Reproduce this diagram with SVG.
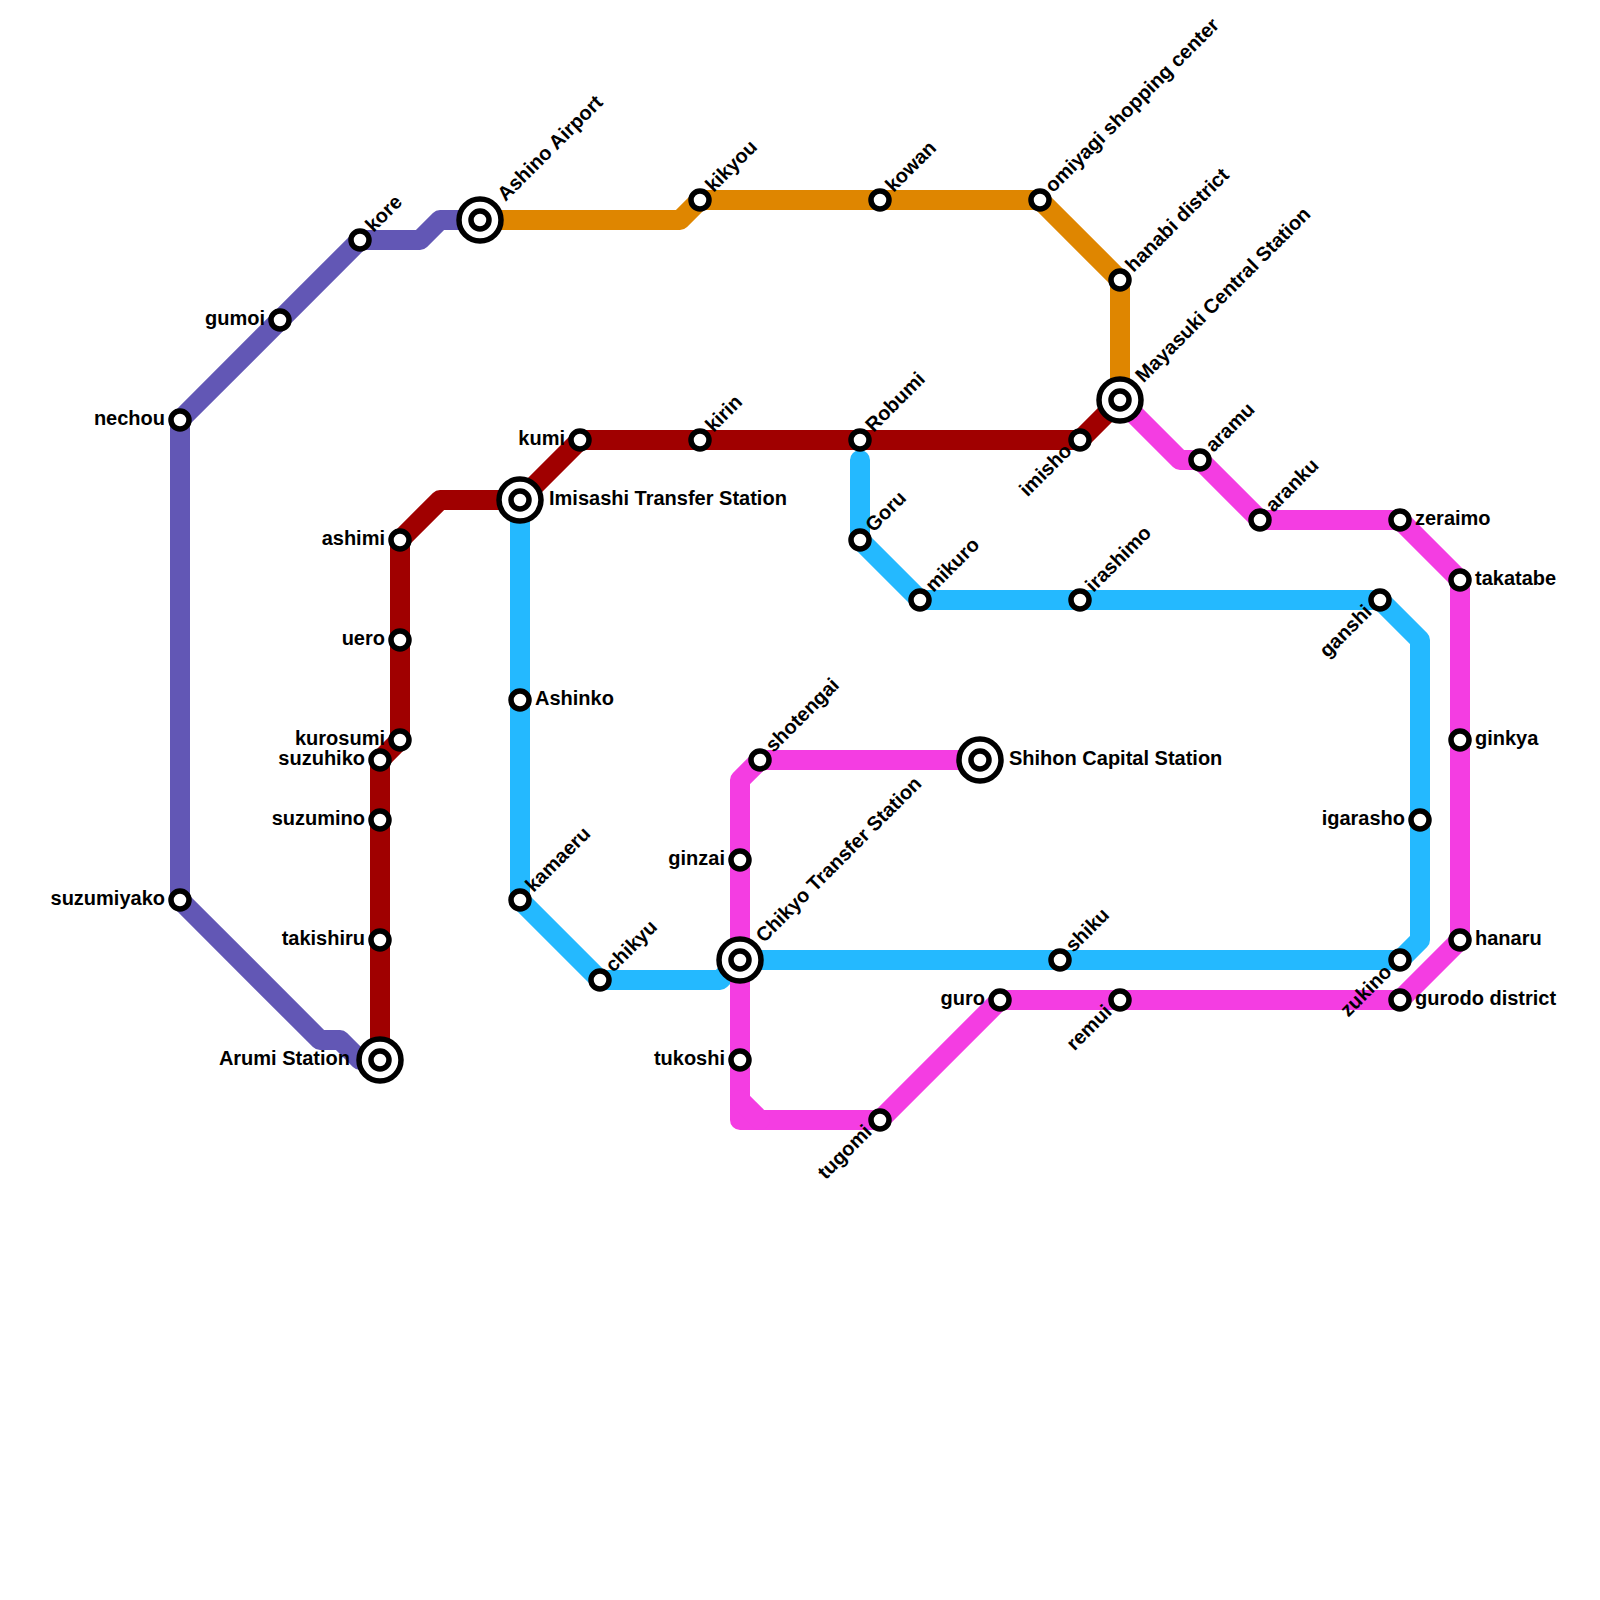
<svg xmlns="http://www.w3.org/2000/svg" width="1600" height="1600" viewBox="0 0 1600 1600">
<style>
.l{fill:none;stroke-width:20;stroke-linejoin:round;stroke-linecap:round}
.s{fill:#fff;stroke:#000;stroke-width:5.5}
text{font-family:"Liberation Sans",Arial,sans-serif;font-size:20px;font-weight:bold;fill:#000}
.e{text-anchor:end}
</style>
<rect width="1600" height="1600" fill="#fff"/>
<defs>
<g id="st"><circle class="s" r="9"/></g>
<g id="ix"><circle class="s" r="21"/><circle class="s" r="9"/></g>
</defs>
<g id="connectors">
<path class="l" stroke="#6257b5" d="M480 220H440L420 240H360L180 420V900L320 1040H340L360 1060H380"/>
<path class="l" stroke="#a00000" d="M380 1060V760L400 740V540L440 500H520L580 440H1080L1120 400"/>
<path class="l" stroke="#df8600" d="M480 220H680L700 200H1040L1120 280V400"/>
<path class="l" stroke="#24b9ff" d="M860 460V540L920 600H1380L1420 640V940L1400 960H740"/>
<path class="l" stroke="#24b9ff" d="M520 500V900L600 980H720L740 960"/>
<path class="l" stroke="#f43de2" d="M1120 400L1180 460H1200L1260 520H1400L1460 580V940L1400 1000H1000L880 1120H740V780L760 760H980"/>
<path class="l" stroke="#f43de2" d="M740 1100L760 1120"/>
</g>
<g id="n-nechou"><use href="#st" x="180" y="420"/><text class="e" x="165" y="425">nechou</text></g>
<g id="n-gumoi"><use href="#st" x="280" y="320"/><text class="e" x="265" y="325">gumoi</text></g>
<g id="n-kore"><use href="#st" x="360" y="240"/><text transform="translate(373.500 233) rotate(-45)">kore</text></g>
<g id="n-ashino"><use href="#ix" x="480" y="220"/><text transform="translate(505.500 202) rotate(-45)">Ashino Airport</text></g>
<g id="n-suzumiyako"><use href="#st" x="180" y="900"/><text class="e" x="165" y="905">suzumiyako</text></g>
<g id="n-arumi"><use href="#ix" x="380" y="1060"/><text class="e" x="350" y="1065">Arumi Station</text></g>
<g id="n-takishiru"><use href="#st" x="380" y="940"/><text class="e" x="365" y="945">takishiru</text></g>
<g id="n-suzumino"><use href="#st" x="380" y="820"/><text class="e" x="365" y="825">suzumino</text></g>
<g id="n-suzuhiko"><use href="#st" x="380" y="760"/><text class="e" x="365" y="765">suzuhiko</text></g>
<g id="n-kurosumi"><use href="#st" x="400" y="740"/><text class="e" x="385" y="745">kurosumi</text></g>
<g id="n-uero"><use href="#st" x="400" y="640"/><text class="e" x="385" y="645">uero</text></g>
<g id="n-ashimi"><use href="#st" x="400" y="540"/><text class="e" x="385" y="545">ashimi</text></g>
<g id="n-imisashi"><use href="#ix" x="520" y="500"/><text x="549" y="505">Imisashi Transfer Station</text></g>
<g id="n-kumi"><use href="#st" x="580" y="440"/><text class="e" x="565" y="445">kumi</text></g>
<g id="n-kirin"><use href="#st" x="700" y="440"/><text transform="translate(713.500 433) rotate(-45)">kirin</text></g>
<g id="n-robumi"><use href="#st" x="860" y="440"/><text transform="translate(873.500 433) rotate(-45)">Robumi</text></g>
<g id="n-imisho"><use href="#st" x="1080" y="440"/><text class="e" transform="translate(1073 452) rotate(-45)">imisho</text></g>
<g id="n-mayasuki"><use href="#ix" x="1120" y="400"/><text transform="translate(1143.500 383.500) rotate(-45)">Mayasuki Central Station</text></g>
<g id="n-hanabi"><use href="#st" x="1120" y="280"/><text transform="translate(1133.500 273) rotate(-45)">hanabi district</text></g>
<g id="n-omiyagi"><use href="#st" x="1040" y="200"/><text transform="translate(1053 193.500) rotate(-45)">omiyagi shopping center</text></g>
<g id="n-kowan"><use href="#st" x="880" y="200"/><text transform="translate(893.500 193) rotate(-45)">kowan</text></g>
<g id="n-kikyou"><use href="#st" x="700" y="200"/><text transform="translate(713.500 193) rotate(-45)">kikyou</text></g>
<g id="n-goru"><use href="#st" x="860" y="540"/><text transform="translate(873.500 533) rotate(-45)">Goru</text></g>
<g id="n-mikuro"><use href="#st" x="920" y="600"/><text transform="translate(933.500 593) rotate(-45)">mikuro</text></g>
<g id="n-irashimo"><use href="#st" x="1080" y="600"/><text transform="translate(1093.500 593) rotate(-45)">irashimo</text></g>
<g id="n-ganshi"><use href="#st" x="1380" y="600"/><text class="e" transform="translate(1373 613) rotate(-45)">ganshi</text></g>
<g id="n-ashinko"><use href="#st" x="520" y="700"/><text x="535" y="705">Ashinko</text></g>
<g id="n-kamaeru"><use href="#st" x="520" y="900"/><text transform="translate(533.500 893) rotate(-45)">kamaeru</text></g>
<g id="n-chikyu"><use href="#st" x="600" y="980"/><text transform="translate(613.500 973) rotate(-45)">chikyu</text></g>
<g id="n-chikyo"><use href="#ix" x="740" y="960"/><text transform="translate(764 943.500) rotate(-45)">Chikyo Transfer Station</text></g>
<g id="n-shiku"><use href="#st" x="1060" y="960"/><text transform="translate(1073.500 953) rotate(-45)">shiku</text></g>
<g id="n-zukino"><use href="#st" x="1400" y="960"/><text class="e" transform="translate(1393 973) rotate(-45)">zukino</text></g>
<g id="n-igarasho"><use href="#st" x="1420" y="820"/><text class="e" x="1405" y="825">igarasho</text></g>
<g id="n-shotengai"><use href="#st" x="760" y="760"/><text transform="translate(773.500 753) rotate(-45)">shotengai</text></g>
<g id="n-shihon"><use href="#ix" x="980" y="760"/><text x="1009" y="765">Shihon Capital Station</text></g>
<g id="n-ginzai"><use href="#st" x="740" y="860"/><text class="e" x="725" y="865">ginzai</text></g>
<g id="n-tukoshi"><use href="#st" x="740" y="1060"/><text class="e" x="725" y="1065">tukoshi</text></g>
<g id="n-tugomi"><use href="#st" x="880" y="1120"/><text class="e" transform="translate(873 1133) rotate(-45)">tugomi</text></g>
<g id="n-guro"><use href="#st" x="1000" y="1000"/><text class="e" x="985" y="1005">guro</text></g>
<g id="n-remui"><use href="#st" x="1120" y="1000"/><text class="e" transform="translate(1113 1013) rotate(-45)">remui</text></g>
<g id="n-gurodo"><use href="#st" x="1400" y="1000"/><text x="1415" y="1005">gurodo district</text></g>
<g id="n-hanaru"><use href="#st" x="1460" y="940"/><text x="1475" y="945">hanaru</text></g>
<g id="n-ginkya"><use href="#st" x="1460" y="740"/><text x="1475" y="745">ginkya</text></g>
<g id="n-takatabe"><use href="#st" x="1460" y="580"/><text x="1475" y="585">takatabe</text></g>
<g id="n-zeraimo"><use href="#st" x="1400" y="520"/><text x="1415" y="525">zeraimo</text></g>
<g id="n-aranku"><use href="#st" x="1260" y="520"/><text transform="translate(1273.500 513) rotate(-45)">aranku</text></g>
<g id="n-aramu"><use href="#st" x="1200" y="460"/><text transform="translate(1213.500 453) rotate(-45)">aramu</text></g>
</svg>
